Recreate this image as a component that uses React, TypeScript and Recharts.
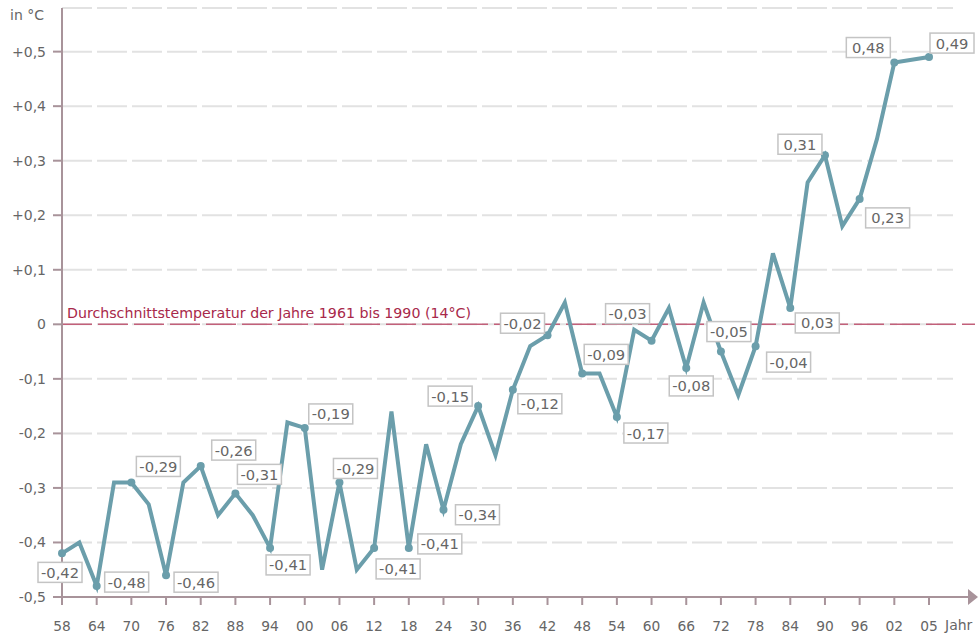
import { LineChart, Line, XAxis, YAxis, CartesianGrid, ReferenceLine, LabelList } from 'recharts'

// 3-year means, deviation from 1961-1990 average (°C); 2004 is only a spacer category
const years = [
  '1858', '1861', '1864', '1867', '1870', '1873', '1876', '1879', '1882', '1885',
  '1888', '1891', '1894', '1897', '1900', '1903', '1906', '1909', '1912', '1915',
  '1918', '1921', '1924', '1927', '1930', '1933', '1936', '1939', '1942', '1945',
  '1948', '1951', '1954', '1957', '1960', '1963', '1966', '1969', '1972', '1975',
  '1978', '1981', '1984', '1987', '1990', '1993', '1996', '1999', '2002', '2004', '2005',
]
const deviation: (number | null)[] = [
  -0.42, -0.40, -0.48, -0.29, -0.29, -0.33, -0.46, -0.29, -0.26, -0.35,
  -0.31, -0.35, -0.41, -0.18, -0.19, -0.45, -0.29, -0.45, -0.41, -0.16,
  -0.41, -0.22, -0.34, -0.22, -0.15, -0.24, -0.12, -0.04, -0.02, 0.04,
  -0.09, -0.09, -0.17, -0.01, -0.03, 0.03, -0.08, 0.04, -0.05, -0.13,
  -0.04, 0.13, 0.03, 0.26, 0.31, 0.18, 0.23, 0.34, 0.48, null, 0.49,
]
const tickYears = [
  '1858', '1864', '1870', '1876', '1882', '1888', '1894', '1900', '1906', '1912',
  '1918', '1924', '1930', '1936', '1942', '1948', '1954', '1960', '1966', '1972',
  '1978', '1984', '1990', '1996', '2002', '2005',
]
const yTicks = [-0.5, -0.4, -0.3, -0.2, -0.1, 0, 0.1, 0.2, 0.3, 0.4, 0.5]

// label box offset from its point, one per tick year
const labelOffsets: [number, number][] = [
  [-2, 19], [30, -4], [27, -16], [30, 7], [33, -16], [24, -19], [18, 17], [26, -14],
  [16, -14], [24, 21], [31, -4], [34, 5], [-28, -10], [27, 14], [-25, -12], [24, -19],
  [29, 16], [-24, -27], [5, 18], [8, -20], [33, 16], [27, 15], [-25, -11], [28, 19],
  [-26, -15], [23, -14],
]

const data = years.map((year, i) => ({ year, value: deviation[i] }))

const AXIS = '#a8939a'
const TEXT = '#666'
const LINE = '#6b9eab'

const fmt = (v: number) => v.toFixed(2).replace('.', ',')
const fmtY = (v: number) => (v === 0 ? '0' : (v > 0 ? '+' : '') + v.toFixed(1).replace('.', ','))

function Dot(props: any) {
  const { cx, cy, payload, index } = props
  if (!tickYears.includes(payload.year) || payload.value == null) return <g key={`d${index}`} />
  return <circle key={`d${index}`} cx={cx} cy={cy} r={4} fill={LINE} />
}

function ValueLabel(props: any) {
  const { x, y, value, index } = props
  const k = tickYears.indexOf(years[index])
  if (k < 0 || value == null) return null
  const [dx, dy] = labelOffsets[k]
  const cx = x + dx
  const cy = y + dy
  return (
    <g>
      <rect x={cx - 22} y={cy - 10} width={44} height={20} fill="#fff" stroke="#c4c4c4" strokeWidth={1.5} />
      <text x={cx} y={cy + 5.5} textAnchor="middle" fontSize={14.7} fill={TEXT}>{fmt(value)}</text>
    </g>
  )
}

function ZeroLabel(props: any) {
  const { viewBox } = props
  return (
    <text x={viewBox.x + 5} y={viewBox.y - 6} fontSize={14.2} fill="#a8284a">
      Durchschnittstemperatur der Jahre 1961 bis 1990 (14°C)
    </text>
  )
}

export default function App() {
  return (
    <div style={{ position: 'absolute', left: 0, top: 0, width: 979, height: 633, background: '#fff', fontFamily: '"DejaVu Sans", Verdana, sans-serif' }}>
      <LineChart width={979} height={633} data={data} margin={{ top: 8, right: 4, left: 0, bottom: 0 }}>
        <CartesianGrid
          vertical={false}
          horizontal={(p: any) => (
            <line key={p.key ?? `g${p.index}`} x1={p.x1} x2={p.x2 - 22} y1={p.y1} y2={p.y2} stroke="#e2e2e2" strokeWidth={2} strokeDasharray="30 5" />
          )}
        />
        <XAxis
          dataKey="year"
          ticks={tickYears}
          interval={0}
          tickFormatter={(v: string) => v.slice(2)}
          padding={{ left: 0, right: 46 }}
          height={36}
          tickSize={8}
          tickMargin={16}
          axisLine={{ stroke: AXIS, strokeWidth: 2 }}
          tickLine={{ stroke: AXIS, strokeWidth: 2 }}
          tick={{ fill: TEXT, fontSize: 13.8 }}
        />
        <YAxis
          domain={[-0.5, 0.58]}
          ticks={yTicks}
          interval={0}
          width={62}
          tickSize={9}
          tickMargin={7}
          tickFormatter={fmtY}
          axisLine={{ stroke: AXIS, strokeWidth: 2 }}
          tickLine={{ stroke: AXIS, strokeWidth: 2 }}
          tick={{ fill: TEXT, fontSize: 14 }}
        />
        <ReferenceLine y={0} stroke="#c2607a" strokeWidth={1.5} strokeDasharray="30 6" label={<ZeroLabel />} />
        <Line
          dataKey="value"
          stroke={LINE}
          strokeWidth={4}
          connectNulls
          dot={<Dot />}
          activeDot={false}
          isAnimationActive={false}
        >
          <LabelList dataKey="value" content={<ValueLabel />} />
        </Line>
      </LineChart>
      <svg width={979} height={633} style={{ position: 'absolute', left: 0, top: 0, pointerEvents: 'none' }}>
        <polygon points="968,589 978,597 968,605" fill={AXIS} />
      </svg>
      <div style={{ position: 'absolute', left: 10, top: 7, fontSize: 14, color: TEXT }}>in °C</div>
      <div style={{ position: 'absolute', left: 945, top: 617, fontSize: 14, color: TEXT }}>Jahr</div>
    </div>
  )
}
